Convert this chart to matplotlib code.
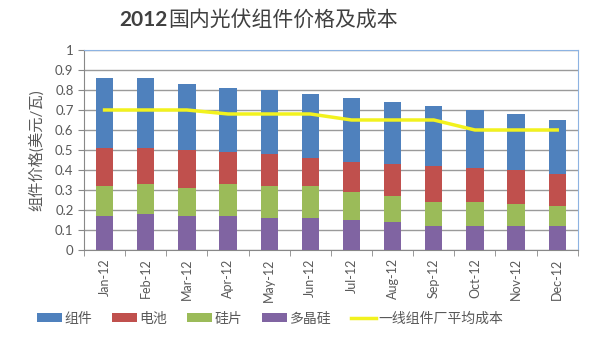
import numpy as np
import matplotlib
matplotlib.use('Agg')
from matplotlib import pyplot as plt

plt.rcParams['font.family'] = ['Lato', 'Noto Sans CJK SC', 'DejaVu Sans']

# 数据（美元/瓦）
months = ['Jan-12', 'Feb-12', 'Mar-12', 'Apr-12', 'May-12', 'Jun-12',
          'Jul-12', 'Aug-12', 'Sep-12', 'Oct-12', 'Nov-12', 'Dec-12']
polysilicon = [0.17, 0.18, 0.17, 0.17, 0.16, 0.16, 0.15, 0.14, 0.12, 0.12, 0.12, 0.12]
wafer = [0.15, 0.15, 0.14, 0.16, 0.16, 0.16, 0.14, 0.13, 0.12, 0.12, 0.11, 0.10]
cell = [0.19, 0.18, 0.19, 0.16, 0.16, 0.14, 0.15, 0.16, 0.18, 0.17, 0.17, 0.16]
module = [0.35, 0.35, 0.33, 0.32, 0.32, 0.32, 0.32, 0.31, 0.30, 0.29, 0.28, 0.27]
avg_cost = [0.70, 0.70, 0.70, 0.68, 0.68, 0.68, 0.65, 0.65, 0.65, 0.60, 0.60, 0.60]

text_color = '#595959'

fig = plt.figure(figsize=(6, 3.56), dpi=100, facecolor='white')
ax = fig.add_axes([0.14, 0.2978, 0.823, 0.5618])

x = np.arange(len(months))
w = 0.42
b1 = np.array(polysilicon)
b2 = b1 + np.array(wafer)
b3 = b2 + np.array(cell)
h1 = ax.bar(x, module, w, bottom=b3, color='#4F81BD', label='组件', zorder=3)
h2 = ax.bar(x, cell, w, bottom=b2, color='#C0504D', label='电池', zorder=3)
h3 = ax.bar(x, wafer, w, bottom=b1, color='#9BBB59', label='硅片', zorder=3)
h4 = ax.bar(x, polysilicon, w, color='#8064A2', label='多晶硅', zorder=3)
h5, = ax.plot(x, avg_cost, color='#F2F21E', linewidth=2.5, label='一线组件厂平均成本', zorder=4)

ax.set_xlim(-0.5, len(months) - 0.5)
ax.set_ylim(0, 1)
ax.set_yticks(np.arange(0, 1.01, 0.1))
ax.set_yticklabels(['0', '0.1', '0.2', '0.3', '0.4', '0.5', '0.6', '0.7', '0.8', '0.9', '1'])
ax.yaxis.grid(True, color='#9a9a9a', linewidth=1, zorder=0)
ax.set_xticks(x)
ax.set_xticklabels(months, rotation=90)
ax.set_xticks(np.arange(-0.5, len(months), 1), minor=True)
ax.tick_params(axis='x', which='major', length=0, pad=6, labelsize=9, labelcolor=text_color)
ax.tick_params(axis='x', which='minor', length=4, color='#888888')
ax.tick_params(axis='y', length=4, labelsize=9.5, labelcolor=text_color, color='#888888')

for side in ['top', 'right']:
    ax.spines[side].set_color('#8db3e2')
ax.spines['left'].set_color('#888888')
ax.spines['bottom'].set_color('#888888')

ax.set_ylabel('组件价格(美元/瓦)', fontsize=11, color=text_color, labelpad=8)

fig.text(0.28, 0.945, '2012', fontsize=15, fontweight='bold', color='#404040', ha='right', va='center')
fig.text(0.28, 0.945, '国内光伏组件价格及成本', fontsize=15, color='#404040', ha='left', va='center')

fig.legend([h1, h2, h3, h4, h5], ['组件', '电池', '硅片', '多晶硅', '一线组件厂平均成本'],
           loc='center', bbox_to_anchor=(0.45, 0.107), ncol=5, frameon=False, fontsize=10,
           handlelength=1.8, handleheight=0.6, columnspacing=1.4, handletextpad=0.2,
           labelcolor=text_color)

plt.savefig('out.png', dpi=100, facecolor='white')
